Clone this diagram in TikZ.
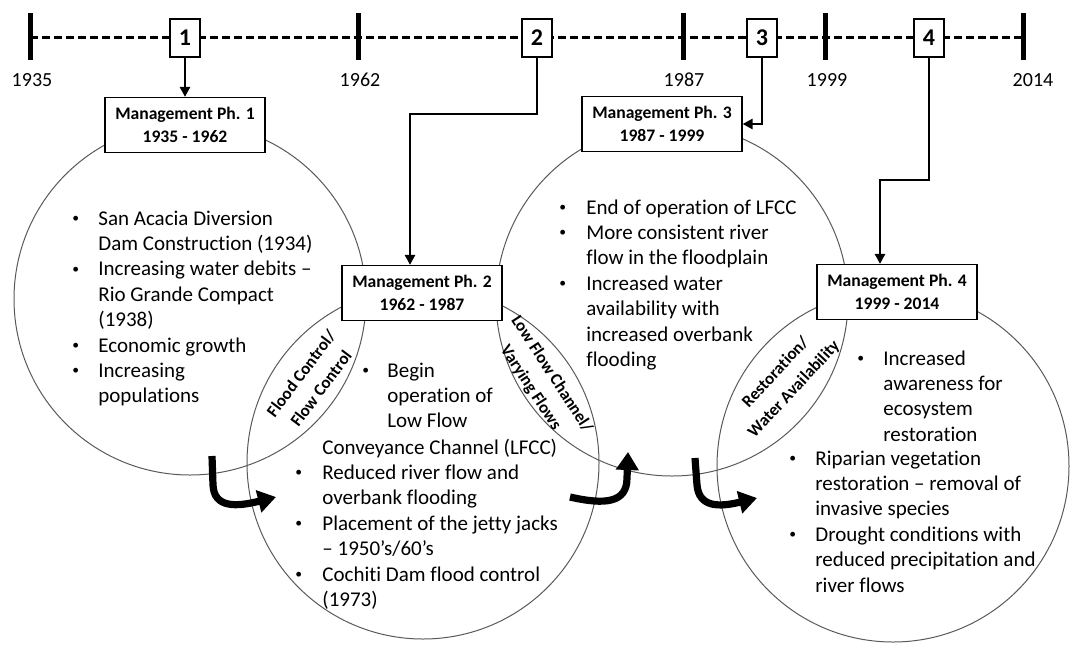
\documentclass[tikz,border=0pt]{standalone}
\usepackage{fontspec}
\usepackage{graphicx}
\setmainfont{Carlito}[Ligatures=CommonOff]
\usetikzlibrary{arrows.meta}
\newcommand{\bul}{\hspace{1pt}\raisebox{0.12em}{\scalebox{0.65}{\textbullet}}}

\begin{document}
\begin{tikzpicture}[x=0.5pt, y=-0.5pt,
	phase/.style = {draw=black!65, line width=0.5pt, circle, minimum size=176pt, inner sep=0pt},
	title/.style = {draw, fill=white, line width=0.6pt, minimum width=80pt, minimum height=27.5pt, align=center, inner sep=1pt, font=\bfseries\fontsize{8.8}{11.2}\selectfont},
	num/.style = {draw, fill=white, line width=0.6pt, minimum width=15pt, minimum height=19pt, inner sep=0pt, font=\bfseries\fontsize{12}{14}\selectfont},
	tick/.style = {line width=2.5pt},
	year/.style = {font=\fontsize{10}{12}\selectfont},
	list/.style = {anchor=base west, inner sep=0pt, font=\fontsize{10.5}{12.7}\selectfont},
	lens/.style = {align=center, inner sep=0pt, font=\bfseries\fontsize{8.5}{10.5}\selectfont},
	link/.style = {-{Triangle[length=5pt,width=5pt]}, line width=1.3pt},
	turn/.style = {-{Triangle[length=9pt,width=11pt]}, line width=3.6pt}]
	\useasboundingbox (0,0) rectangle (1071,644);

	\foreach \x/\lx/\yr [count=\i] in {30/32/1935, 358/360/1962, 683/684/1987, 825/827/1999, 1023/1033/2014} {
		\coordinate (t\i) at (\x,37);
		\draw[tick] (\x,13) -- (\x,60);
		\node[year] (y\i) at (\lx,80) {\yr};
	}
	\draw[line width=1.5pt, dash pattern=on 4.2pt off 1.8pt] (t1) -- (t5);

	\node[num] (n1) at (185,38) {1};
	\node[num] (n2) at (537,38) {2};
	\node[num] (n3) at (762,38) {3};
	\node[num] (n4) at (929,38) {4};

	\node[phase] (c1) at (190,299) {};
	\node[phase] (c2) at (423,463) {};
	\node[phase] (c3) at (672,300) {};
	\node[phase] (c4) at (893,466) {};

	\node[title] (p1) at (185,125) {Management Ph. 1\\1935 - 1962};
	\node[title] (p2) at (422,293) {Management Ph. 2\\1962 - 1987};
	\node[title] (p3) at (662,124) {Management Ph. 3\\1987 - 1999};
	\node[title] (p4) at (897,292) {Management Ph. 4\\1999 - 2014};

	\coordinate (b2) at (410,114);
	\coordinate (b4) at (880,180);
	\draw[link] (n1) -- (p1);
	\draw[link] (n2) |- (b2) -- (b2 |- p2.north);
	\draw[link] (n3) |- (p3);
	\draw[link] (n4) |- (b4) -- (b4 |- p4.north);

	\node[lens, rotate=53] (l1) at (311,381) {Flood Control/\\[2pt]Flow Control};
	\node[lens, rotate=-57] (l2) at (541,381) {Low Flow Channel/\\[2pt]Varying Flows};
	\node[lens, rotate=47] (l3) at (785,381) {Restoration/\\[2pt]Water Availability};

	\node[list] (s1) at (70,225) {\begin{tabular}[t]{@{}p{14pt}@{}l@{}}
		\bul & San Acacia Diversion\\
		& Dam Construction (1934)\\
		\bul & Increasing water debits –\\
		& Rio Grande Compact\\
		& (1938)\\
		\bul & Economic growth\\
		\bul & Increasing\\
		& populations
	\end{tabular}};
	\node[list] (s2) at (360,377) {\begin{tabular}[t]{@{}p{13.5pt}@{}l@{}}
		\bul & Begin\\
		& operation of\\
		& Low Flow
	\end{tabular}};
	\node[list] (s3) at (293,454) {\begin{tabular}[t]{@{}p{14.5pt}@{}l@{}}
		& Conveyance Channel (LFCC)\\
		\bul & Reduced river flow and\\
		& overbank flooding\\
		\bul & Placement of the jetty jacks\\
		& – 1950’s/60’s\\
		\bul & Cochiti Dam flood control\\
		& (1973)
	\end{tabular}};
	\node[list] (s4) at (557,214) {\begin{tabular}[t]{@{}p{14.5pt}@{}l@{}}
		\bul & End of operation of LFCC\\
		\bul & More consistent river\\
		& flow in the floodplain\\
		\bul & Increased water\\
		& availability with\\
		& increased overbank\\
		& flooding
	\end{tabular}};
	\node[list] (s5) at (855,365) {\begin{tabular}[t]{@{}p{14pt}@{}l@{}}
		\bul & Increased\\
		& awareness for\\
		& ecosystem\\
		& restoration
	\end{tabular}};
	\node[list] (s6) at (787,465) {\begin{tabular}[t]{@{}p{14pt}@{}l@{}}
		\bul & Riparian vegetation\\
		& restoration – removal of\\
		& invasive species\\
		\bul & Drought conditions with\\
		& reduced precipitation and\\
		& river flows
	\end{tabular}};

	\coordinate (a1) at (212,456);
	\coordinate (a2) at (276,497);
	\coordinate (a3) at (570,497);
	\coordinate (a4) at (628,452);
	\coordinate (a5) at (695,458);
	\coordinate (a6) at (757,498);
	\draw[turn] (a1) -- (213,485) .. controls (214,508) and (236,507) .. (a2);
	\draw[turn] (a3) .. controls (605,505) and (627,503) .. (627,478) -- (a4);
	\draw[turn] (a5) -- (697,485) .. controls (699,508) and (720,507) .. (a6);
\end{tikzpicture}
\end{document}
